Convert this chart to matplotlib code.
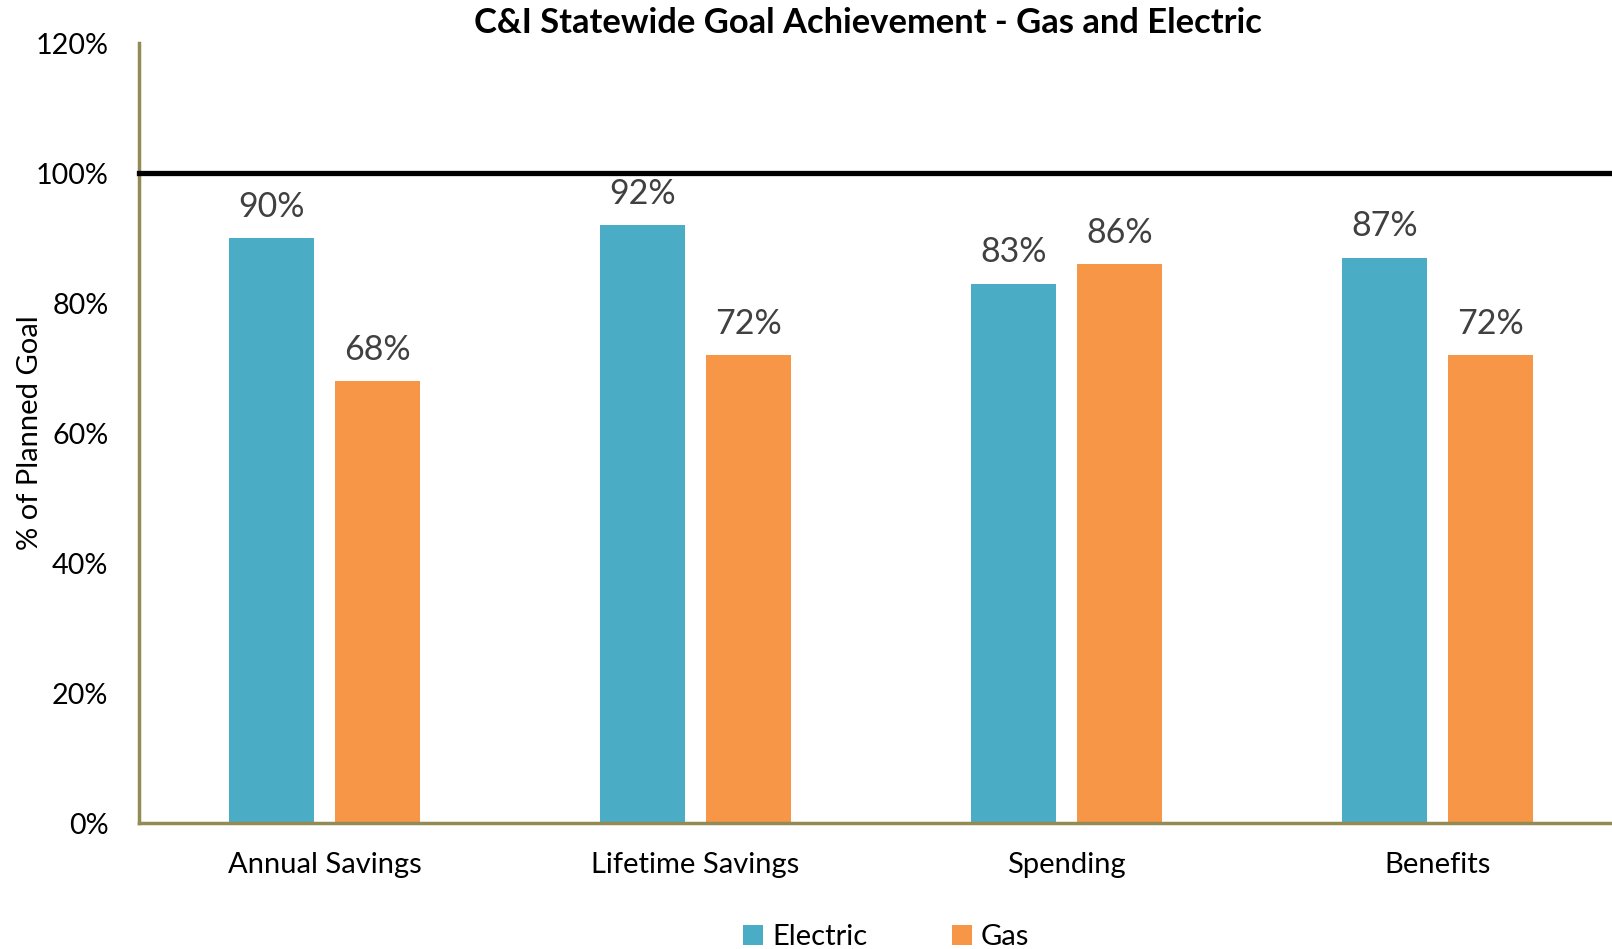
import matplotlib.pyplot as plt
import numpy as np

categorias = ["Annual Savings", "Lifetime Savings", "Spending", "Benefits"]
electric = [90, 92, 83, 87]
gas = [68, 72, 86, 72]
ticks_y = [0, 20, 40, 60, 80, 100, 120]

AZUL = "#4BACC6"
NARANJA = "#F79646"
OLIVA = "#948A54"

plt.rcParams["font.family"] = ["Lato", "DejaVu Sans"]

W, H = 1612, 949
fig = plt.figure(figsize=(W / 100, H / 100), dpi=100)
# el area de trazado sigue un poco mas alla del borde derecho
ax = fig.add_axes([139 / W, 1 - 823 / H, 1484 / W, 780 / H])

x = np.arange(len(categorias))
off = 0.143
ancho = 0.229
b1 = ax.bar(x - off, electric, ancho, color=AZUL, label="Electric", zorder=2)
b2 = ax.bar(x + off, gas, ancho, color=NARANJA, label="Gas", zorder=2)

for barras, vals in ((b1, electric), (b2, gas)):
    for b, v in zip(barras, vals):
        ax.annotate("%d%%" % v, (b.get_x() + b.get_width() / 2, v),
                    xytext=(0, 11), textcoords="offset points",
                    ha="center", va="bottom", fontsize=24.5, color="#404040")

ax.axhline(100, color="black", lw=3.8, zorder=3, clip_on=False)

ax.set_xlim(-0.5, len(categorias) - 0.5)
ax.set_ylim(0, 120)
ax.set_yticks(ticks_y)
ax.set_yticklabels(["%d%%" % t for t in ticks_y], fontsize=20.7)
ax.set_xticks(x)
ax.set_xticklabels(categorias, fontsize=21)
ax.tick_params(axis="both", length=0)
ax.tick_params(axis="y", pad=22)
ax.tick_params(axis="x", pad=21)

for lado in ("top", "right"):
    ax.spines[lado].set_visible(False)
for lado in ("left", "bottom"):
    ax.spines[lado].set_color(OLIVA)
    ax.spines[lado].set_linewidth(2.5)

fig.text(30 / W, 1 - 433 / H, "% of Planned Goal", rotation=90,
         ha="center", va="center", fontsize=21)
fig.text(868 / W, 1 - 23 / H, "C&I Statewide Goal Achievement - Gas and Electric",
         ha="center", va="center", fontsize=24.8, fontweight="bold")

fig.legend(loc="center", bbox_to_anchor=(886 / W, 1 - 937 / H), ncol=2,
           frameon=False, fontsize=21, handlelength=0.7, handleheight=0.7,
           handletextpad=0.3, columnspacing=2.9)

fig.savefig("out.png", dpi=100)
